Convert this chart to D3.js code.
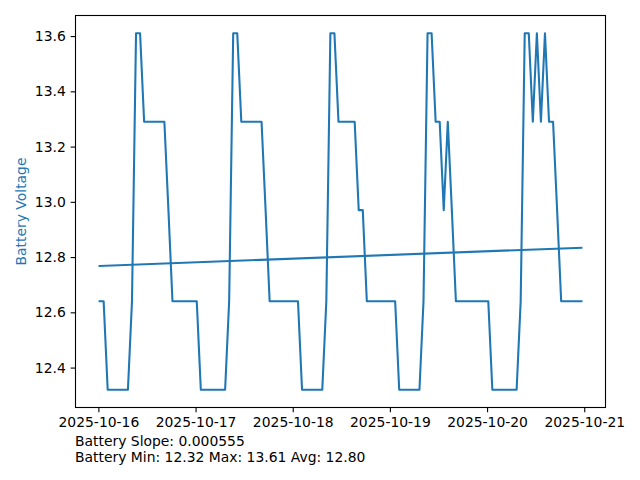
<!DOCTYPE html>
<html>
<head>
<meta charset="utf-8">
<script src="https://cdn.jsdelivr.net/npm/d3@7"></script>
<style>
  html, body { margin: 0; padding: 0; background: #fff; }
  svg { display: block; }
  text { font-family: "DejaVu Sans", sans-serif; }
</style>
</head>
<body>
<svg id="chart" width="640" height="480"></svg>
<script>
// ---- Data (hourly samples starting 2025-10-16 ~00:18) ----
const startTime = "2025-10-16T00:18:00Z";
const voltage = [
  // 2025-10-16
  12.64, 12.64, 12.32, 12.32, 12.32, 12.32, 12.32, 12.32, 12.64, 13.61, 13.61, 13.29,
  13.29, 13.29, 13.29, 13.29, 13.29, 12.97, 12.64, 12.64, 12.64, 12.64, 12.64, 12.64,
  // 2025-10-17
  12.64, 12.32, 12.32, 12.32, 12.32, 12.32, 12.32, 12.32, 12.64, 13.61, 13.61, 13.29,
  13.29, 13.29, 13.29, 13.29, 13.29, 12.97, 12.64, 12.64, 12.64, 12.64, 12.64, 12.64,
  // 2025-10-18
  12.64, 12.64, 12.32, 12.32, 12.32, 12.32, 12.32, 12.32, 12.64, 13.61, 13.61, 13.29,
  13.29, 13.29, 13.29, 13.29, 12.97, 12.97, 12.64, 12.64, 12.64, 12.64, 12.64, 12.64,
  // 2025-10-19
  12.64, 12.64, 12.32, 12.32, 12.32, 12.32, 12.32, 12.32, 12.64, 13.61, 13.61, 13.29,
  13.29, 12.97, 13.29, 12.97, 12.64, 12.64, 12.64, 12.64, 12.64, 12.64, 12.64, 12.64,
  // 2025-10-20
  12.64, 12.32, 12.32, 12.32, 12.32, 12.32, 12.32, 12.32, 12.64, 13.61, 13.61, 13.29,
  13.61, 13.29, 13.61, 13.29, 13.29, 12.97, 12.64, 12.64, 12.64, 12.64, 12.64, 12.64
];
const xTickDates = ["2025-10-16", "2025-10-17", "2025-10-18", "2025-10-19", "2025-10-20", "2025-10-21"];
const yTicks = [12.4, 12.6, 12.8, 13.0, 13.2, 13.4, 13.6];
const slopePerSample = 0.000555;
const statsLines = [
  "Battery Slope: 0.000555",
  "Battery Min: 12.32 Max: 13.61 Avg: 12.80"
];
const yLabel = "Battery Voltage";

// ---- Build records ----
const t0 = new Date(startTime).getTime();
const HOUR = 3600 * 1000;
const records = voltage.map((v, i) => ({ t: new Date(t0 + i * HOUR), v, i }));

// trend line (slope per sample, passing through mean)
const meanV = d3.mean(voltage);
const meanI = (voltage.length - 1) / 2;
const trend = [records[0], records[records.length - 1]].map(r => ({
  t: r.t, v: meanV + slopePerSample * (r.i - meanI)
}));

// ---- Layout ----
const color = "#1f77b4";
const fontSize = 13.9;
const ax = { left: 75.5, right: 605.5, top: 15.5, bottom: 407.5 };

const svg = d3.select("#chart");

const tExt = d3.extent(records, d => d.t.getTime());
const tPad = (tExt[1] - tExt[0]) * 0.05;
const x = d3.scaleUtc()
  .domain([new Date(tExt[0] - tPad), new Date(tExt[1] + tPad)])
  .range([ax.left, ax.right]);

const vExt = d3.extent(voltage);
const vPad = (vExt[1] - vExt[0]) * 0.05;
const y = d3.scaleLinear()
  .domain([vExt[0] - vPad, vExt[1] + vPad])
  .range([ax.bottom, ax.top]);

// ---- Lines ----
const line = d3.line().x(d => x(d.t)).y(d => y(d.v));
const plot = svg.append("g");
plot.append("path")
  .datum(records)
  .attr("fill", "none")
  .attr("stroke", color)
  .attr("stroke-width", 2.08)
  .attr("stroke-linejoin", "round")
  .attr("stroke-linecap", "square")
  .attr("d", line);
plot.append("path")
  .datum(trend)
  .attr("fill", "none")
  .attr("stroke", color)
  .attr("stroke-width", 2.08)
  .attr("stroke-linecap", "square")
  .attr("d", line);

// ---- Axes ----
const xAxis = d3.axisBottom(x)
  .tickValues(xTickDates.map(s => new Date(s + "T00:00:00Z")))
  .tickFormat(d3.utcFormat("%Y-%m-%d"))
  .tickSize(4.86)
  .tickPadding(4.86);
const gx = svg.append("g")
  .attr("transform", `translate(0,${ax.bottom})`)
  .call(xAxis);

const yAxis = d3.axisLeft(y)
  .tickValues(yTicks)
  .tickFormat(d3.format(".1f"))
  .tickSize(4.86)
  .tickPadding(4.86);
const gy = svg.append("g")
  .attr("transform", `translate(${ax.left},0)`)
  .call(yAxis);

[gx, gy].forEach(g => {
  g.select(".domain").remove();
  g.selectAll(".tick line").attr("stroke", "#000").attr("stroke-width", 1.1);
  g.selectAll(".tick text")
    .attr("fill", "#000")
    .attr("font-size", fontSize)
    .attr("font-family", "DejaVu Sans, sans-serif");
});
gx.selectAll(".tick text").attr("dy", "0.71em");

// frame
svg.append("rect")
  .attr("x", ax.left).attr("y", ax.top)
  .attr("width", ax.right - ax.left).attr("height", ax.bottom - ax.top)
  .attr("fill", "none").attr("stroke", "#000").attr("stroke-width", 1.1);

// y label
svg.append("text")
  .attr("transform", `translate(25.5,${(ax.top + ax.bottom) / 2}) rotate(-90)`)
  .attr("text-anchor", "middle")
  .attr("fill", color)
  .attr("font-size", fontSize)
  .text(yLabel);

// stats text
svg.selectAll("text.stats")
  .data(statsLines)
  .enter().append("text")
  .attr("class", "stats")
  .attr("x", 75)
  .attr("y", (d, i) => 446 + i * 16.2)
  .attr("font-size", fontSize)
  .attr("fill", "#000")
  .text(d => d);
</script>
</body>
</html>
